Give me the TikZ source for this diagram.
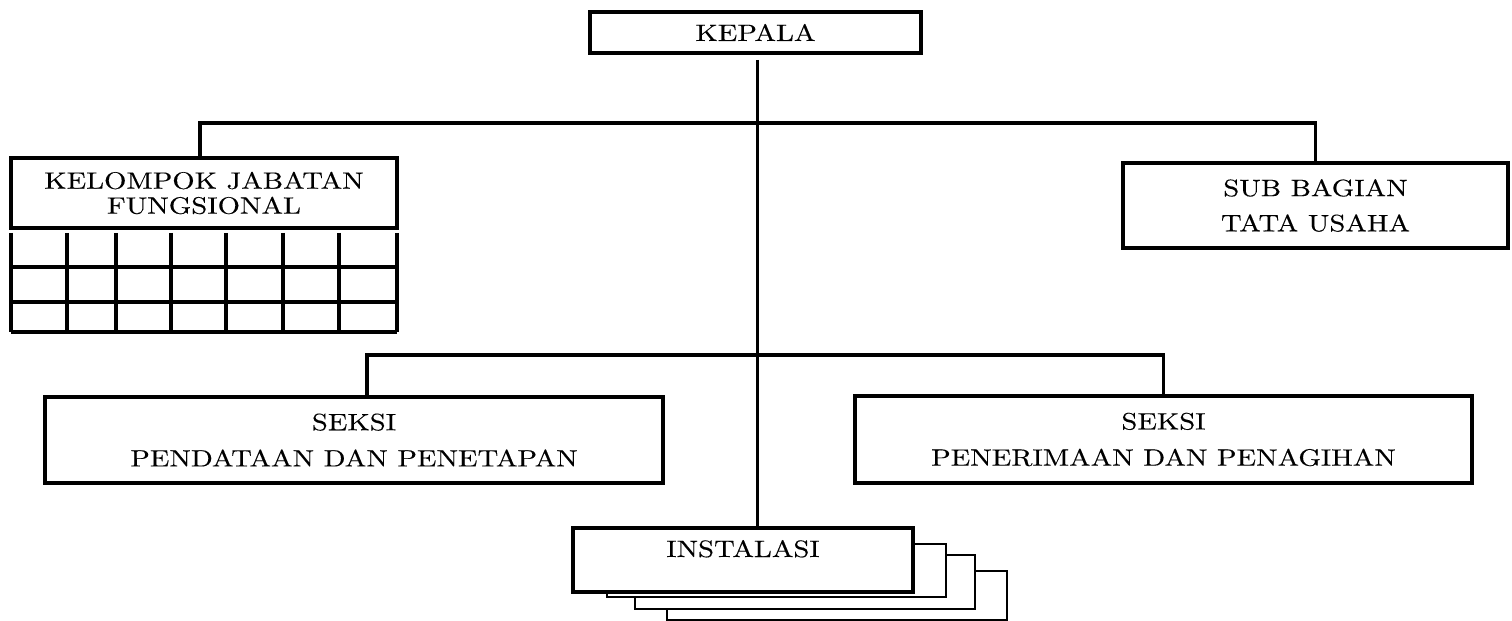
\documentclass[tikz,border=0pt]{standalone}
\usepackage{fontspec}
\newfontfamily\orgfont[FakeStretch=1.21,FakeBold=0.25]{lmroman10-regular.otf}
\begin{document}
\begin{tikzpicture}[
      unit/.style={draw,line width=1.1pt,inner sep=0pt,align=center,
        font=\orgfont\fontsize{6.75}{7.1}\selectfont},
      link/.style={line width=1.1pt},
      copybox/.style={draw,fill=white,line width=.5pt}]
    \useasboundingbox (0,0) rectangle (15.12,-6.21);
    % boxes
    \node[unit,minimum width=3.31cm,minimum height=.41cm] (kepala) at (7.555,-.325) {KEPALA};
    \node[unit,minimum width=3.86cm,minimum height=.70cm] (kfg) at (2.04,-1.93) {KELOMPOK JABATAN\\FUNGSIONAL};
    \node[unit,minimum width=3.85cm,minimum height=.85cm] (sub) at (13.155,-2.055) {SUB BAGIAN\\[2.9pt]TATA USAHA};
    \node[unit,minimum width=6.18cm,minimum height=.86cm] (pend) at (3.54,-4.40) {SEKSI\\[3.2pt]PENDATAAN DAN PENETAPAN};
    \node[unit,minimum width=6.17cm,minimum height=.87cm] (pene) at (11.635,-4.395) {SEKSI\\[3.2pt]PENERIMAAN DAN PENAGIHAN};
    % stacked copies behind instalasi
    \draw[copybox] (6.67,-5.71) rectangle (10.07,-6.20);
    \draw[copybox] (6.35,-5.55) rectangle (9.75,-6.09);
    \draw[copybox] (6.07,-5.44) rectangle (9.46,-5.97);
    \node[unit,fill=white,minimum width=3.40cm,minimum height=.64cm,
      text height=4.6pt,text depth=6.3pt] (inst) at (7.43,-5.60) {INSTALASI};
    % grid below kelompok jabatan fungsional
    \foreach \gx in {.11,.67,1.16,1.71,2.26,2.83,3.39,3.97}
      \draw[link] (\gx,-2.33) -- (\gx,-3.32);
    \foreach \gy in {-2.67,-3.02,-3.32}
      \draw[link] (.11,\gy) -- (3.97,\gy);
    % connectors
    \coordinate (trunk) at (7.575,-.60);
    \coordinate (bus1) at (7.575,-1.23);
    \coordinate (bus2) at (3.67,-3.55);
    \draw[link] (trunk) -- (trunk |- inst.north);
    \draw[link] ([xshift=-.04cm]kfg.north) |- (bus1) -| (sub.north);
    \draw[link] (pend.north -| bus2) -- (bus2) -| (pene.north);
\end{tikzpicture}
\end{document}
